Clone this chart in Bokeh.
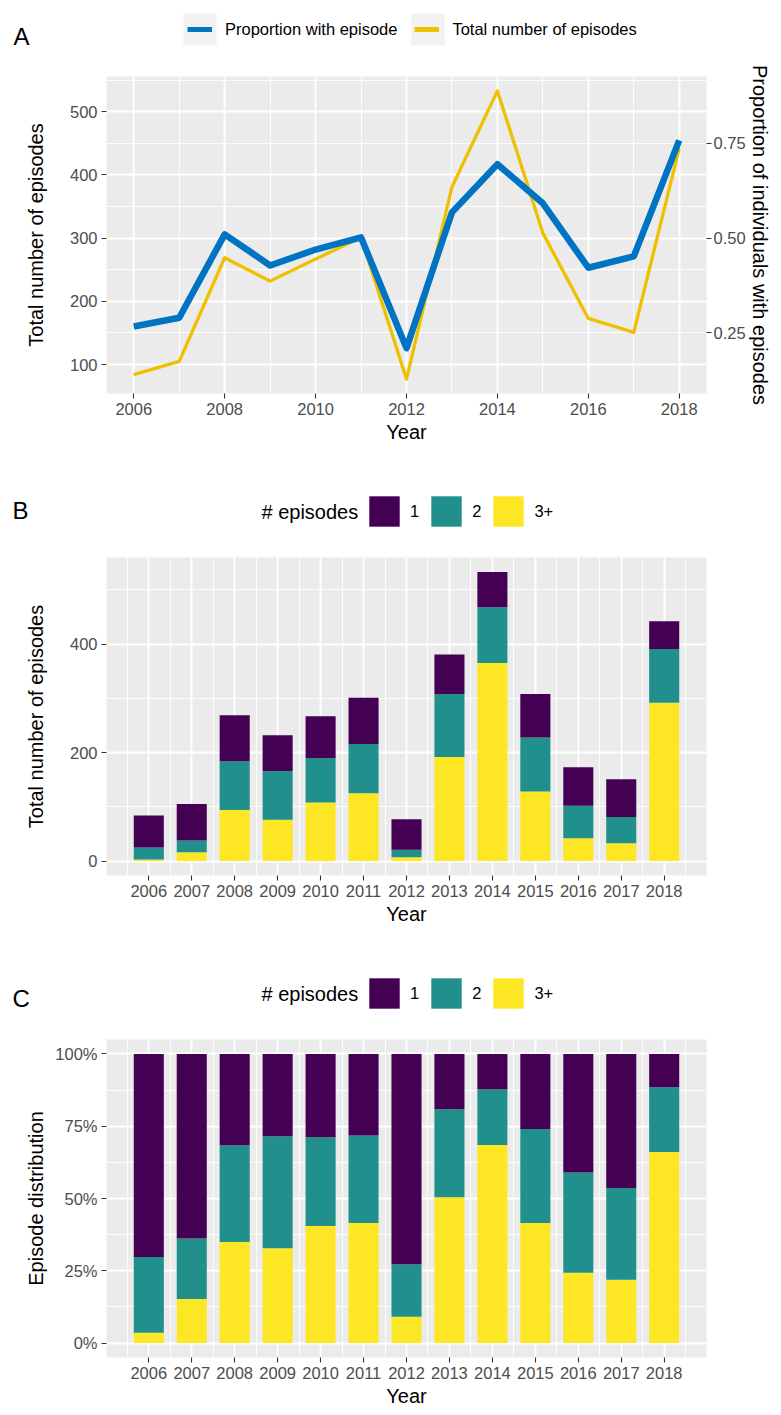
from bokeh.plotting import figure
from bokeh.layouts import column
from bokeh.models import (ColumnDataSource, Range1d, LinearAxis, FixedTicker,
                          NumeralTickFormatter, Legend, LegendItem, Label, BoxAnnotation)
from bokeh.embed import file_html
from bokeh.resources import INLINE

# ---------------- data ----------------
years = [2006, 2007, 2008, 2009, 2010, 2011, 2012, 2013, 2014, 2015, 2016, 2017, 2018]
episodes_1 = [59, 67, 85, 66, 77, 85, 56, 73, 65, 80, 71, 70, 51]
episodes_2 = [22, 22, 90, 90, 82, 91, 14, 116, 103, 100, 60, 48, 99]
episodes_3plus = [3, 16, 94, 76, 108, 125, 7, 192, 365, 128, 42, 33, 292]
prop_with_episode = [0.267, 0.290, 0.510, 0.428, 0.470, 0.502, 0.210,
                     0.568, 0.695, 0.592, 0.422, 0.452, 0.758]
episode_labels = ["1", "2", "3+"]
series_labels = ["Proportion with episode", "Total number of episodes"]
yA_ticks = [100, 200, 300, 400, 500]
yA_minor = [150, 250, 350, 450, 550]
prop_ticks = [0.25, 0.50, 0.75]
yB_ticks = [0, 200, 400]
yB_minor = [100, 300, 500]
yC_ticks = [0, 0.25, 0.5, 0.75, 1.0]
yC_minor = [0.125, 0.375, 0.625, 0.875]
SEC_SCALE = 600  # secondary axis: proportion * 600 = episodes

total_episodes = [a + b + c for a, b, c in zip(episodes_1, episodes_2, episodes_3plus)]
share_1 = [a / t for a, t in zip(episodes_1, total_episodes)]
share_2 = [a / t for a, t in zip(episodes_2, total_episodes)]
share_3 = [a / t for a, t in zip(episodes_3plus, total_episodes)]

# ---------------- styling ----------------
FONT = "Liberation Sans"
BLUE = "#0073C2"
GOLD = "#EFC000"
PURPLE = "#440154"
TEAL = "#21908C"
YELLOW = "#FDE725"
TICK_FS = "16.5px"
TITLE_FS = "20px"
W = 781
NAN = float("nan")


def style(p, left_standoff):
    p.background_fill_color = "#EBEBEB"
    p.border_fill_color = "white"
    p.outline_line_color = None
    for ax in p.axis:
        ax.axis_line_color = None
        ax.major_tick_line_color = "#333333"
        ax.major_tick_line_width = 1.1
        ax.major_tick_out = 5
        ax.major_tick_in = 0
        ax.minor_tick_line_color = None
        ax.major_label_text_font = FONT
        ax.major_label_text_font_size = TICK_FS
        ax.major_label_text_color = "#4D4D4D"
        ax.axis_label_text_font = FONT
        ax.axis_label_text_font_size = TITLE_FS
        ax.axis_label_text_color = "black"
        ax.axis_label_text_font_style = "normal"
    for ax in p.xaxis:
        ax.major_label_standoff = 4
        ax.axis_label_standoff = 3
    p.yaxis[0].major_label_standoff = 4
    p.yaxis[0].axis_label_standoff = left_standoff
    for g in p.grid:
        g.grid_line_color = "white"
        g.grid_line_width = 1.8
        g.minor_grid_line_color = "white"
        g.minor_grid_line_width = 0.9


def header(height):
    h = figure(width=W, height=height, x_range=Range1d(0, W), y_range=Range1d(height, 0),
               min_border=0, x_axis_type=None, y_axis_type=None, frame_align=False,
               output_backend="svg", toolbar_location=None)
    h.outline_line_color = None
    h.background_fill_color = "white"
    h.border_fill_color = "white"
    h.grid.visible = False
    return h


def text(p, s, x, y, size):
    p.add_layout(Label(x=x, y=y, text=s, text_font=FONT, text_font_size=size,
                       text_color="black", text_baseline="middle", text_align="left"))


# ---------------- Panel A header (legend + tag) ----------------
hA = header(60)
for left in (183, 411):
    hA.add_layout(BoxAnnotation(left=left, right=left + 33, top=13, bottom=45,
                                fill_color="#F2F2F2", fill_alpha=1.0, line_color=None,
                                level="underlay"))
kA_blue = hA.line(x=[NAN], y=[NAN], line_color=BLUE, line_width=5)
kA_gold = hA.line(x=[NAN], y=[NAN], line_color=GOLD, line_width=5)
hA.add_layout(Legend(items=[LegendItem(label=series_labels[0], renderers=[kA_blue]),
                            LegendItem(label=series_labels[1], renderers=[kA_gold])],
                     orientation="horizontal", location=(187, 15),
                     glyph_width=25, glyph_height=32, label_standoff=13, spacing=17,
                     padding=0, margin=0, border_line_color=None, background_fill_alpha=0,
                     label_text_font=FONT, label_text_font_size=TICK_FS,
                     label_text_color="black"))
text(hA, "A", 13, 36, "24px")

# ---------------- Panel A ----------------
lo = min(min(total_episodes), min(v * SEC_SCALE for v in prop_with_episode))
hi = max(max(total_episodes), max(v * SEC_SCALE for v in prop_with_episode))
pad = (hi - lo) * 0.05
xpadA = (years[-1] - years[0]) * 0.05

pA = figure(frame_width=600, frame_height=317, min_border_left=106, min_border_right=75,
            min_border_top=16, min_border_bottom=77,
            x_range=Range1d(years[0] - xpadA, years[-1] + xpadA),
            y_range=Range1d(lo - pad, hi + pad),
            output_backend="svg", toolbar_location=None)
pA.extra_y_ranges = {"prop": Range1d((lo - pad) / SEC_SCALE, (hi + pad) / SEC_SCALE)}

srcA = ColumnDataSource(dict(year=years, total=total_episodes, prop=prop_with_episode))
pA.line("year", "total", source=srcA, line_color=GOLD, line_width=3.3, line_join="round")
pA.line("year", "prop", source=srcA, y_range_name="prop", line_color=BLUE,
        line_width=6.5, line_join="round")

right_ax = LinearAxis(y_range_name="prop", ticker=FixedTicker(ticks=prop_ticks),
                      formatter=NumeralTickFormatter(format="0.00"),
                      axis_label="Proportion of individuals with episodes")
pA.add_layout(right_ax, "right")

pA.xaxis.ticker = FixedTicker(ticks=years[::2], minor_ticks=years[1::2])
pA.yaxis[0].ticker = FixedTicker(ticks=yA_ticks, minor_ticks=yA_minor)
pA.xaxis.axis_label = "Year"
pA.yaxis[0].axis_label = "Total number of episodes"
style(pA, 20)
right_ax.major_label_standoff = 2
right_ax.axis_label_standoff = 0


# ---------------- Panels B and C ----------------
def bar_header(height, leg_y, title_y, tag_s, tag_y):
    h = header(height)
    keys = [h.vbar(x=[NAN], top=[NAN], width=1, fill_color=c, line_color=None)
            for c in (PURPLE, TEAL, YELLOW)]
    h.add_layout(Legend(items=[LegendItem(label=episode_labels[i], renderers=[keys[i]])
                               for i in range(3)],
                        orientation="horizontal", location=(365, leg_y),
                        glyph_width=38, glyph_height=38, label_standoff=7, spacing=8,
                        label_width=1, padding=0, margin=0, border_line_color=None,
                        background_fill_alpha=0, label_text_font=FONT,
                        label_text_font_size=TICK_FS, label_text_color="black"))
    text(h, "# episodes", 261, title_y, TITLE_FS)
    text(h, tag_s, 12, tag_y, "24px")
    return h


def bar_panel(values, ymin, ymax, yticks, yminor, ylabel, top, bottom, left_standoff, fmt=None):
    xpad = (years[-1] - years[0] + 0.7) * 0.05 + 0.35
    p = figure(frame_width=600, frame_height=318, min_border_left=106, min_border_right=75,
               min_border_top=top, min_border_bottom=bottom,
               x_range=Range1d(years[0] - xpad, years[-1] + xpad),
               y_range=Range1d(ymin, ymax),
               output_backend="svg", toolbar_location=None)
    src = ColumnDataSource(dict(year=years, v3=values[2], v2=values[1], v1=values[0]))
    p.vbar_stack(["v3", "v2", "v1"], x="year", width=0.7, source=src,
                 fill_color=[YELLOW, TEAL, PURPLE], line_color=None)
    p.xaxis.ticker = FixedTicker(ticks=years,
                                 minor_ticks=[years[0] - 0.5] + [y + 0.5 for y in years])
    p.yaxis.ticker = FixedTicker(ticks=yticks, minor_ticks=yminor)
    if fmt is not None:
        p.yaxis.formatter = fmt
    p.xaxis.axis_label = "Year"
    p.yaxis.axis_label = ylabel
    style(p, left_standoff)
    return p


hB = bar_header(70, 10, 41, "B", 40)
maxB = max(total_episodes)
pB = bar_panel([episodes_1, episodes_2, episodes_3plus], -maxB * 0.05, maxB * 1.05,
               yB_ticks, yB_minor, "Total number of episodes", 17, 75, 20)

hC = bar_header(70, 8, 43, "C", 48)
pC = bar_panel([share_1, share_2, share_3], -0.05, 1.05, yC_ticks, yC_minor,
               "Episode distribution", 19, 58, 5, NumeralTickFormatter(format="0%"))

layout = column(hA, pA, hB, pB, hC, pC)
open("out.html", "w").write(file_html(layout, INLINE))
